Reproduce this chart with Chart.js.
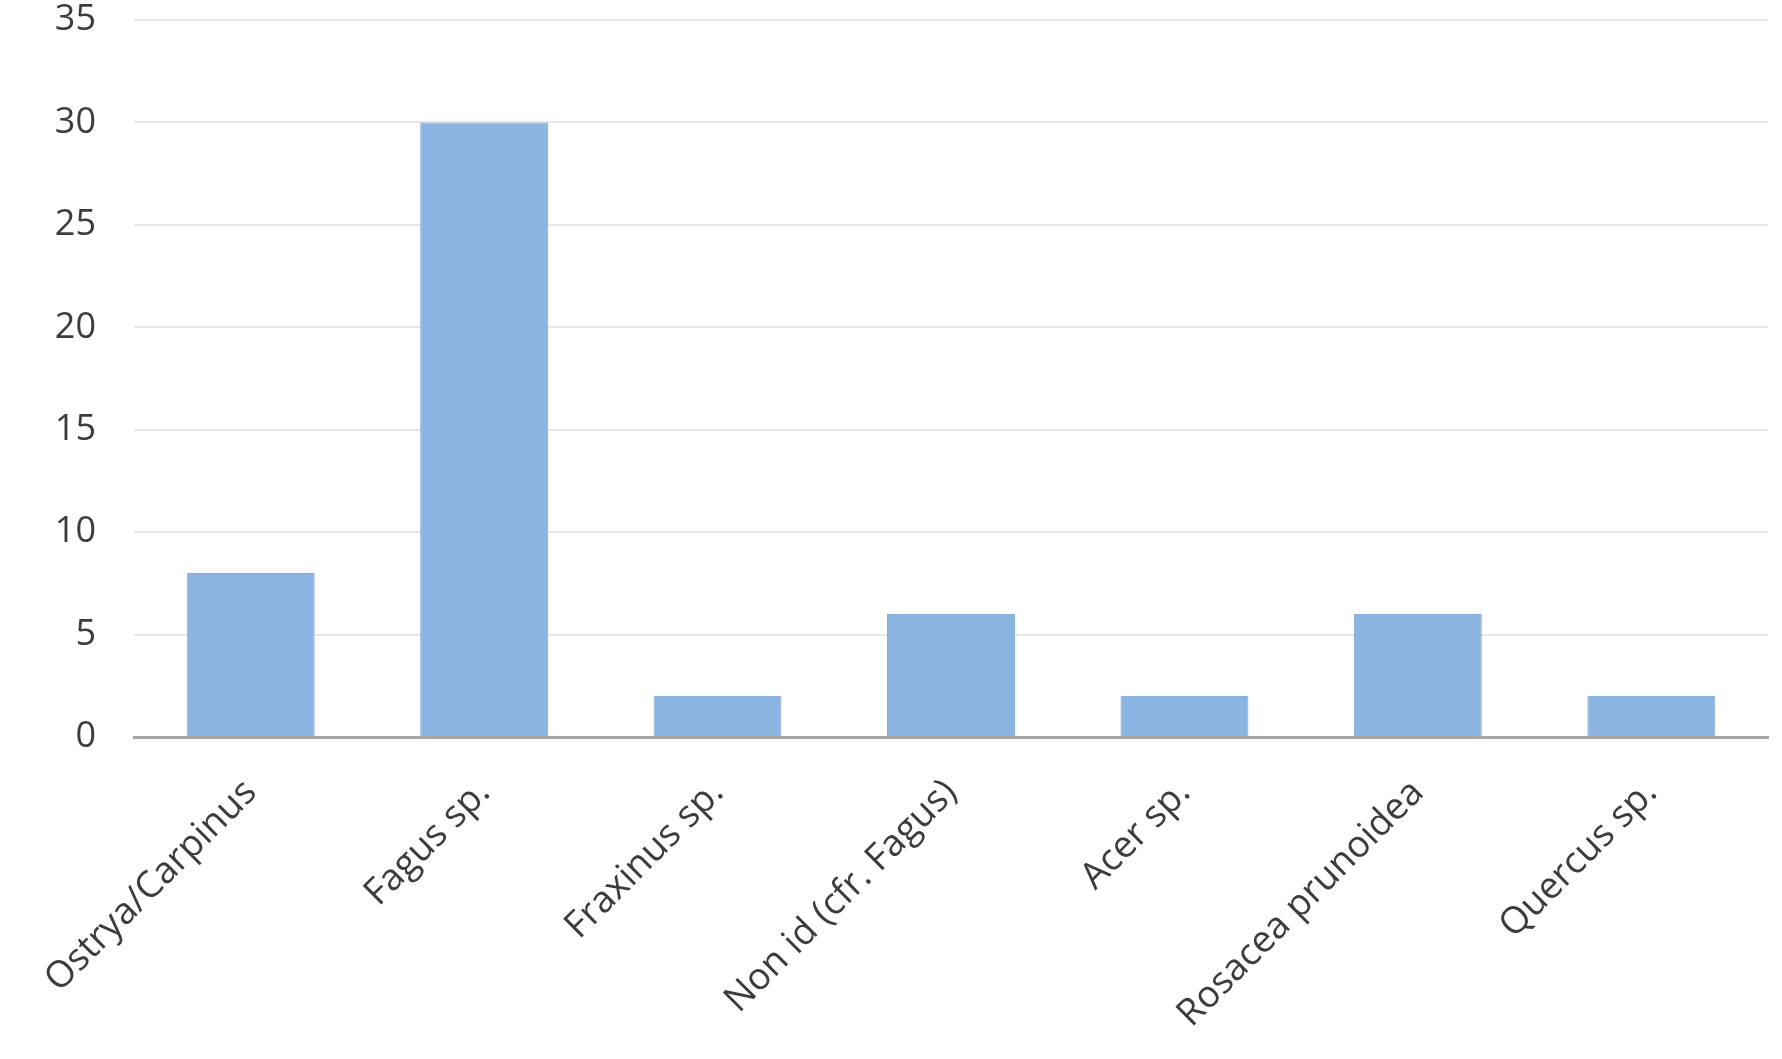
<!DOCTYPE html>
<html>
<head>
<meta charset="utf-8">
<script src="https://cdn.jsdelivr.net/npm/chart.js@4/dist/chart.umd.min.js"></script>
<style>
  html, body { margin: 0; padding: 0; background: #fff; }
  #wrap { width: 1782px; height: 1059px; position: relative; }
</style>
</head>
<body>
<div id="wrap"><canvas id="chartcnv"></canvas></div>
<script>
// taxa and counts
var categories = ['Ostrya/Carpinus', 'Fagus sp.', 'Fraxinus sp.', 'Non id (cfr. Fagus)', 'Acer sp.', 'Rosacea prunoidea', 'Quercus sp.'];
var counts = [8, 30, 2, 6, 2, 6, 2];
var yTicks = [0, 5, 10, 15, 20, 25, 30, 35];

var barColor = '#8BB4E0';
var textColor = '#3C3C3C';

const ctx = document.getElementById('chartcnv').getContext('2d');
const myChart = new Chart(ctx, {
  type: 'bar',
  data: {
    labels: categories,
    datasets: [{
      label: 'Count',
      data: counts,
      backgroundColor: barColor,
      borderColor: '#84AEDC',
      borderWidth: 1,
      categoryPercentage: 1,
      barPercentage: 0.548
    }]
  },
  options: {
    responsive: true,
    maintainAspectRatio: false,
    animation: false,
    layout: {
      padding: { top: 20, right: 14, left: 0, bottom: 0 }
    },
    plugins: {
      legend: { display: false },
      title: { display: false },
      tooltip: { enabled: false }
    },
    scales: {
      x: {
        grid: { display: false },
        border: { display: true, color: '#A6A6A6', width: 3 },
        ticks: {
          color: textColor,
          font: { family: 'Open Sans', size: 37 },
          minRotation: 45,
          maxRotation: 45,
          padding: 26,
          autoSkip: false
        },
        afterFit: function(scale) { scale.height = 322; }
      },
      y: {
        min: 0,
        max: 35,
        afterBuildTicks: function(scale) {
          scale.ticks = yTicks.map(function(v) { return { value: v }; });
        },
        grid: { color: '#E6E6E6', lineWidth: 2, drawTicks: false },
        border: { display: false },
        ticks: {
          color: textColor,
          font: { family: 'Open Sans', size: 36 },
          padding: 38
        },
        afterFit: function(scale) {
          scale.width = 134;
          scale.paddingTop = 0;
          scale.paddingBottom = 0;
        }
      }
    }
  }
});
</script>
</body>
</html>
